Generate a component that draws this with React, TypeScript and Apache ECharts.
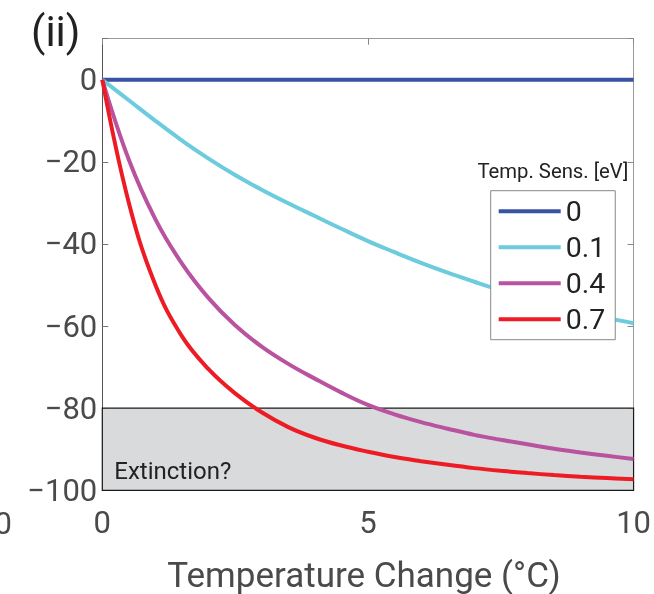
import React, { useEffect, useRef } from "react";
import * as echarts from "echarts";

const tempChange = [0, 0.5, 1, 1.5, 2, 2.5, 3, 3.5, 4, 4.5, 5, 5.5, 6, 6.5, 7, 7.5, 8, 8.5, 9, 9.5, 10];
const sens0 = [0, 0, 0, 0, 0, 0, 0, 0, 0, 0, 0, 0, 0, 0, 0, 0, 0, 0, 0, 0, 0];
const sens01 = [0, -5, -10, -14.8, -19.2, -23.2, -26.8, -30.1, -33.2, -36.3, -39.3, -42, -44.6, -47, -49.2, -51.3, -53.2, -54.9, -56.5, -58, -59.3];
const sens04 = [0, -19.5, -34, -44.8, -53.2, -59.8, -65, -69.2, -72.8, -76.2, -79.2, -81.5, -83.4, -85, -86.5, -87.7, -88.8, -89.9, -90.8, -91.6, -92.4];
const sens07 = [0, -30, -50, -62.5, -70.5, -76.4, -81, -84.6, -87.2, -89.1, -90.6, -91.9, -92.9, -93.8, -94.6, -95.25, -95.8, -96.3, -96.7, -97, -97.3];
const seriesNames = ["0", "0.1", "0.4", "0.7"];
const seriesColors = ["#3953a4", "#6ccbdc", "#b9529f", "#ed1c24"];
const extinctionBand = [-100, -80];

const FONT = "Roboto";

export default function App() {
  const ref = useRef<HTMLDivElement>(null);
  useEffect(() => {
    if (!ref.current) return;
    const chart = echarts.init(ref.current, null, { renderer: "svg" });
    const all = [sens0, sens01, sens04, sens07];
    const fmtY = (v: number) => (v > 0 ? "" : v < 0 ? "\u2212" + Math.abs(v) : "0");
    chart.setOption({
      animation: false,
      grid: { left: 102.3, top: 38.7, right: 18.3, bottom: 103.7, containLabel: false },
      xAxis: [
        {
          type: "value", min: 0, max: 10, interval: 5, position: "bottom",
          axisLine: { onZero: false, lineStyle: { color: "#222", width: 1 } },
          axisTick: { inside: true, length: 6, lineStyle: { color: "#444" } },
          axisLabel: { fontFamily: FONT, fontSize: 31, color: "#4a4a4a", margin: 17 },
          splitLine: { show: false },
        },
        {
          type: "value", min: 0, max: 10, interval: 5, position: "top",
          axisLine: { onZero: false, lineStyle: { color: "#999", width: 1 } },
          axisTick: { inside: true, length: 6, lineStyle: { color: "#888" } },
          axisLabel: { show: false },
          splitLine: { show: false },
        },
      ],
      yAxis: [
        {
          type: "value", min: -100, max: 10, interval: 20, position: "left",
          axisLine: { show: true, onZero: false, lineStyle: { color: "#555", width: 1 } },
          axisTick: { show: true, inside: true, length: 6, lineStyle: { color: "#777" } },
          axisLabel: { fontFamily: FONT, fontSize: 31, color: "#4a4a4a", margin: 5, formatter: fmtY },
          splitLine: { show: false },
        },
        {
          type: "value", min: -100, max: 10, interval: 20, position: "right",
          axisLine: { show: true, onZero: false, lineStyle: { color: "#999", width: 1 } },
          axisTick: { show: true, inside: true, length: 6, lineStyle: { color: "#888" } },
          axisLabel: { show: false },
          splitLine: { show: false },
        },
      ],
      legend: {
        orient: "vertical",
        left: 490.7,
        top: 190.7,
        z: 20,
        data: seriesNames,
        icon: "rect",
        itemWidth: 62,
        itemHeight: 4,
        itemGap: 7,
        padding: [6, 10, 6, 8],
        borderColor: "#888",
        borderWidth: 1,
        backgroundColor: "#fff",
        textStyle: { fontFamily: FONT, fontSize: 28.5, color: "#222" },
      },
      series: [
        {
          type: "line",
          name: "band",
          data: [],
          silent: true,
          z: 1,
          markArea: {
            silent: true,
            itemStyle: { color: "#d9dadc", borderColor: "#1a1a1a", borderWidth: 1.2 },
            data: [[{ xAxis: 0, yAxis: extinctionBand[0] }, { xAxis: 10, yAxis: extinctionBand[1] }]],
          },
        },
        ...all.map((arr, i) => ({
          type: "line",
          name: seriesNames[i],
          data: tempChange.map((x, j) => [x, arr[j]]),
          showSymbol: false,
          smooth: 0.4,
          lineStyle: { color: seriesColors[i], width: 4 },
          itemStyle: { color: seriesColors[i] },
          z: 2,
        })),
      ],
      graphic: [
        {
          type: "text", left: 31, top: 10,
          style: { text: "(ii)", font: `42px ${FONT}`, fill: "#222" },
        },
        {
          type: "text", x: 628.3, y: 171,
          style: { text: "Temp. Sens. [eV]", font: `20.3px ${FONT}`, fill: "#222", align: "right", verticalAlign: "middle" },
        },
        {
          type: "text", x: 114.3, y: 471,
          style: { text: "Extinction?", font: `24px ${FONT}`, fill: "#222", align: "left", verticalAlign: "middle" },
          z: 10,
        },
        {
          type: "text", x: 364, y: 575,
          style: { text: "Temperature Change (\u00b0C)", font: `35px ${FONT}`, fill: "#4a4a4a", align: "center", verticalAlign: "middle" },
        },
        {
          type: "text", x: 12, y: 523,
          style: { text: "0", font: `31px ${FONT}`, fill: "#4a4a4a", align: "right", verticalAlign: "middle" },
        },
      ],
    });
    return () => chart.dispose();
  }, []);
  return <div ref={ref} style={{ position: "fixed", left: 0, top: 0, width: 654, height: 594 }} />;
}
